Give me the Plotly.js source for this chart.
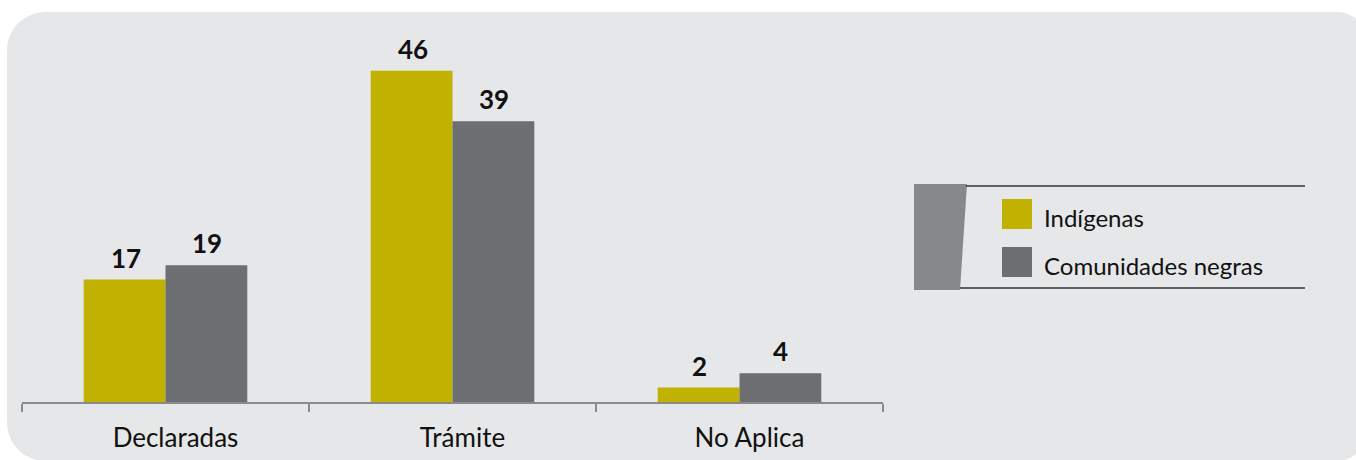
<!DOCTYPE html>
<html>
<head>
<meta charset="utf-8">
<script src="https://cdn.plot.ly/plotly-3.0.1.min.js"></script>
<style>
  html, body { margin:0; padding:0; background:#ffffff; }
  #wrap { position:relative; width:1356px; height:460px; overflow:hidden; }
  #panel { position:absolute; left:7px; top:12px; width:1360px; height:449px;
           background:#e6e7e9; border-radius:38px 30px 30px 38px; }
  #chart { position:absolute; left:0; top:0; width:1356px; height:460px; }
</style>
</head>
<body>
<div id="wrap">
  <div id="panel"></div>
  <div id="chart"></div>
</div>
<script>
// ---- data ----
const categories = ["Declaradas", "Trámite", "No Aplica"];
const indigenas = [17, 46, 2];
const comunidadesNegras = [19, 39, 4];
const seriesNames = ["Indígenas", "Comunidades negras"];
const seriesColors = ["#c1b100", "#6d6e71"];

// ---- layout helpers (pixel -> paper) ----
const W = 1356, H = 460;
const M = {l: 22, r: W - 883, t: 42, b: H - 402};
const PW = W - M.l - M.r, PH = H - M.t - M.b;
const px = x => (x - M.l) / PW;
const py = y => (H - M.b - y) / PH;

const FONT = "Lato, 'Open Sans', sans-serif";

const traces = [
  {type: "bar", name: seriesNames[0], x: categories, y: indigenas,
   marker: {color: seriesColors[0], line: {width: 0}}, showlegend: false, hoverinfo: "x+y"},
  {type: "bar", name: seriesNames[1], x: categories, y: comunidadesNegras,
   marker: {color: seriesColors[1], line: {width: 0}}, showlegend: false, hoverinfo: "x+y"}
];

const annotations = [];
[indigenas, comunidadesNegras].forEach((vals, si) => {
  vals.forEach((v, i) => {
    annotations.push({
      x: categories[i], y: v, xref: "x", yref: "y",
      xshift: si === 0 ? -40 : 41, yshift: 4,
      text: String(v), showarrow: false, yanchor: "bottom",
      font: {family: FONT, size: 26, color: "#111111", weight: 700}
    });
  });
});

// legend (custom drawn)
const legendY = [217, 265];
seriesNames.forEach((n, i) => {
  annotations.push({
    x: px(1042), y: py(legendY[i]), xref: "paper", yref: "paper",
    xanchor: "left", yanchor: "middle", showarrow: false, text: n,
    font: {family: FONT, size: 24, color: "#111111"}
  });
});

const shapes = [
  {type: "path", xref: "paper", yref: "paper",
   path: `M ${px(914)} ${py(184)} L ${px(967)} ${py(184)} L ${px(960)} ${py(290)} L ${px(914)} ${py(290)} Z`,
   fillcolor: "#87888a", line: {width: 0}},
  {type: "line", xref: "paper", yref: "paper", x0: px(966), x1: px(1305), y0: py(186), y1: py(186),
   line: {color: "#333333", width: 1.5}},
  {type: "line", xref: "paper", yref: "paper", x0: px(960), x1: px(1305), y0: py(288), y1: py(288),
   line: {color: "#333333", width: 1.5}},
  {type: "rect", xref: "paper", yref: "paper", x0: px(1002), x1: px(1032), y0: py(199), y1: py(229),
   fillcolor: seriesColors[0], line: {width: 0}},
  {type: "rect", xref: "paper", yref: "paper", x0: px(1002), x1: px(1032), y0: py(247), y1: py(277),
   fillcolor: seriesColors[1], line: {width: 0}}
];

const layout = {
  width: W, height: H,
  margin: M,
  paper_bgcolor: "rgba(0,0,0,0)",
  plot_bgcolor: "rgba(0,0,0,0)",
  barmode: "group", bargap: 0.43, bargroupgap: 0,
  showlegend: false,
  xaxis: {
    type: "category", range: [-0.5, 2.5], fixedrange: true,
    showline: true, linecolor: "#8a8a8a", linewidth: 1.5,
    ticks: "outside", tickson: "boundaries", ticklen: 8, tickwidth: 1.5, tickcolor: "#8a8a8a",
    showgrid: false, zeroline: false,
    ticklabelshift: 10, ticklabelstandoff: 12,
    tickfont: {family: FONT, size: 26, color: "#111111"}
  },
  yaxis: {
    range: [0, 50], visible: false, showgrid: false, zeroline: false, fixedrange: true
  },
  annotations: annotations,
  shapes: shapes,
  font: {family: FONT}
};

Plotly.newPlot("chart", traces, layout, {displayModeBar: false, staticPlot: true});
</script>
</body>
</html>
